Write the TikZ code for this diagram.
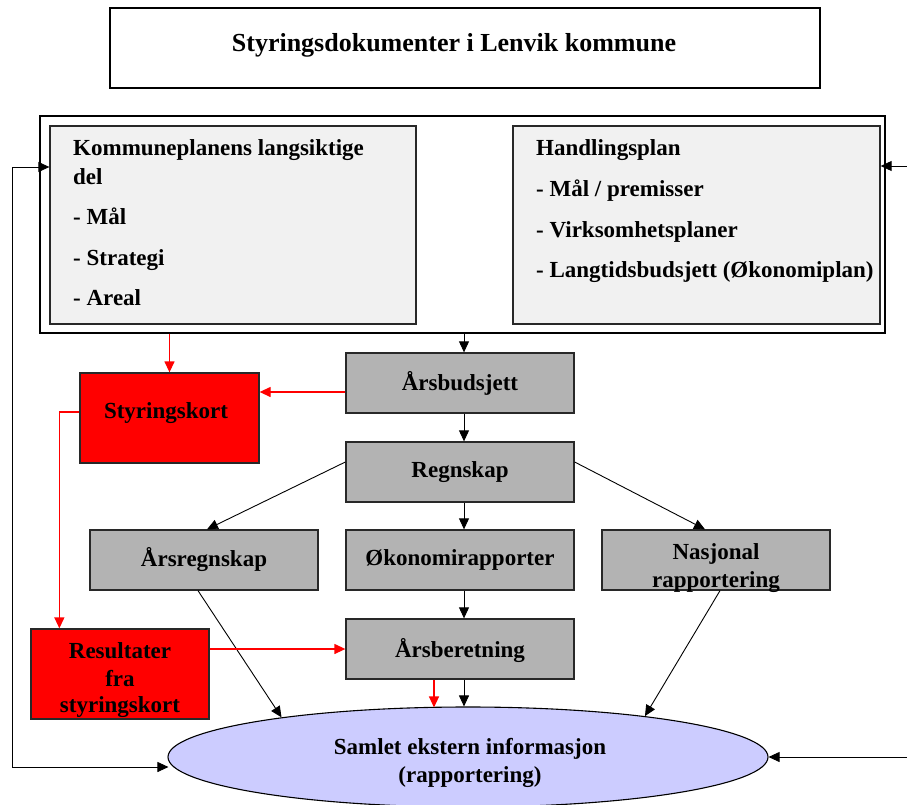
\documentclass[tikz,border=0pt]{standalone}
\usepackage{fontspec}
\setmainfont{Liberation Serif}
\usetikzlibrary{arrows.meta,shapes.geometric,calc}
\definecolor{boxgray}{RGB}{179,179,179}
\definecolor{lightbox}{RGB}{241,241,241}
\definecolor{ellfill}{RGB}{204,204,255}
\definecolor{redfill}{RGB}{255,0,0}
\definecolor{edge}{RGB}{40,40,40}
\begin{document}
\begin{tikzpicture}[x=1pt,y=-1pt,
  font=\fontsize{23}{29}\selectfont\bfseries,
  plainbox/.style={draw=black, line width=1.1pt, fill=white, inner sep=0pt},
  lightbox/.style={draw=edge, line width=1.3pt, fill=lightbox, inner sep=0pt, minimum height=198pt},
  graybox/.style={draw=edge, line width=1.3pt, fill=boxgray, inner sep=0pt, minimum width=228pt, minimum height=60pt, align=center},
  redbox/.style={draw=edge, line width=1.3pt, fill=redfill, inner sep=0pt, align=center},
  label/.style={inner sep=0pt, align=center},
  listtext/.style={anchor=north west, align=left, inner sep=0pt},
  arr/.style={draw=black, line width=0.9pt, -{Triangle[length=11pt,width=10pt]}},
  redarr/.style={draw=red, line width=1.3pt, -{Triangle[length=11pt,width=10pt]}},
  fbarr/.style={draw=black, line width=0.9pt, {Triangle[length=11pt,width=10pt]}-{Triangle[length=11pt,width=10pt]}}
]
\useasboundingbox[fill=white] (0,0) rectangle (907,805);

% title
\node[plainbox, minimum width=710pt, minimum height=80pt] (title) at (465,48) {};
\node[label, font=\fontsize{26}{30}\selectfont\bfseries] (titletext) at (454,45) {Styringsdokumenter i Lenvik kommune};

% outer planning box
\node[plainbox, minimum width=845pt, minimum height=217pt] (outer) at (462.5,224.5) {};
\node[lightbox, minimum width=366pt] (kp) at (233,225) {};
\node[lightbox, minimum width=367pt] (hp) at (696.5,225) {};
\node[listtext] (kptext) at (73,139) {Kommuneplanens langsiktige\\del\\[11pt]- Mål\\[12pt]- Strategi\\[11pt]- Areal};
\node[listtext] (hptext) at (536,139) {Handlingsplan\\[12pt]- Mål / premisser\\[12pt]- Virksomhetsplaner\\[11pt]- Langtidsbudsjett (Økonomiplan)};

% main column
\node[graybox] (budsjett) at (460,383) {Årsbudsjett};
\node[graybox] (regnskap) at (460,472) {Regnskap};
\node[graybox] (okon) at (460,560) {Økonomirapporter};
\node[graybox] (beretning) at (460,649) {};
\node[label] (beretningtext) at (460,651) {Årsberetning};
\node[graybox] (arsregn) at (204,560) {Årsregnskap};
\node[graybox] (nasj) at (716,560) {};
\node[label] (nasjtext) at (716,568) {Nasjonal\\[-1pt]rapportering};

% red boxes
\node[redbox, minimum width=179pt, minimum height=90pt] (styr) at (169.5,418) {};
\node[label] (styrtext) at (166,413) {Styringskort};
\node[redbox, minimum width=178pt, minimum height=90pt] (result) at (120,674) {};
\node[label] (resulttext) at (120,680) {Resultater\\[-1pt]fra\\[-3pt]styringskort};

% ellipse
\node[ellipse, draw=black, line width=1.1pt, fill=ellfill, inner sep=0pt, minimum width=600pt, minimum height=100pt] (samlet) at (468,757) {};
\node[label] (samlettext) at (470,763) {Samlet ekstern informasjon\\[-1pt](rapportering)};

% black connectors
\coordinate (c1) at ($(budsjett.north)+(4,0)$);
\draw[arr] (outer.south -| c1) -- (c1);
\draw[arr] ($(budsjett.south)+(4,0)$) -- ($(regnskap.north)+(4,0)$);
\draw[arr] ($(regnskap.south)+(4,0)$) -- ($(okon.north)+(4,0)$);
\draw[arr] ($(okon.south)+(4,0)$) -- ($(beretning.north)+(4,0)$);
\draw[arr] ($(regnskap.west)+(0,-10)$) -- ($(arsregn.north)+(3,0)$);
\draw[arr] ($(regnskap.east)+(0,-10)$) -- ($(nasj.north)+(-11,0)$);
\draw[arr] ($(arsregn.south)+(-6,0)$) -- (samlet.168);
\draw[arr] ($(nasj.south)+(4,0)$) -- (samlet.13);
\coordinate (c2) at ($(beretning.south)+(4,0)$);
\draw[arr] (c2) -- (c2 |- samlet.north);

% red connectors
\draw[redarr] (styr.north |- outer.south) -- (styr.north);
\coordinate (c3) at ($(budsjett.west)+(0,9)$);
\draw[redarr] (c3) -- (c3 -| styr.east);
\coordinate (c4) at ($(result.north west)+(29,0)$);
\draw[redarr] ($(styr.west)+(0,-6)$) -| (c4);
\draw[redarr] (result.east |- beretning.west) -- (beretning.west);
\coordinate (c5) at ($(beretning.south)+(-26,0)$);
\draw[redarr] (c5) -- ($(c5 |- samlet.north)+(0,1)$);

% feedback loops
\coordinate (fbA) at (12,167);
\coordinate (fbB) at (12,767);
\draw[fbarr] (kp.west |- fbA) -- (fbA) -- (fbB) -- ($(fbB -| samlet.west)+(1,0)$);
\coordinate (fbC) at (907,166);
\coordinate (fbD) at (907,757);
\draw[arr] (fbC) -- (fbC -| hp.east);
\draw[arr] (fbD) -- (samlet.east);
\end{tikzpicture}
\end{document}
